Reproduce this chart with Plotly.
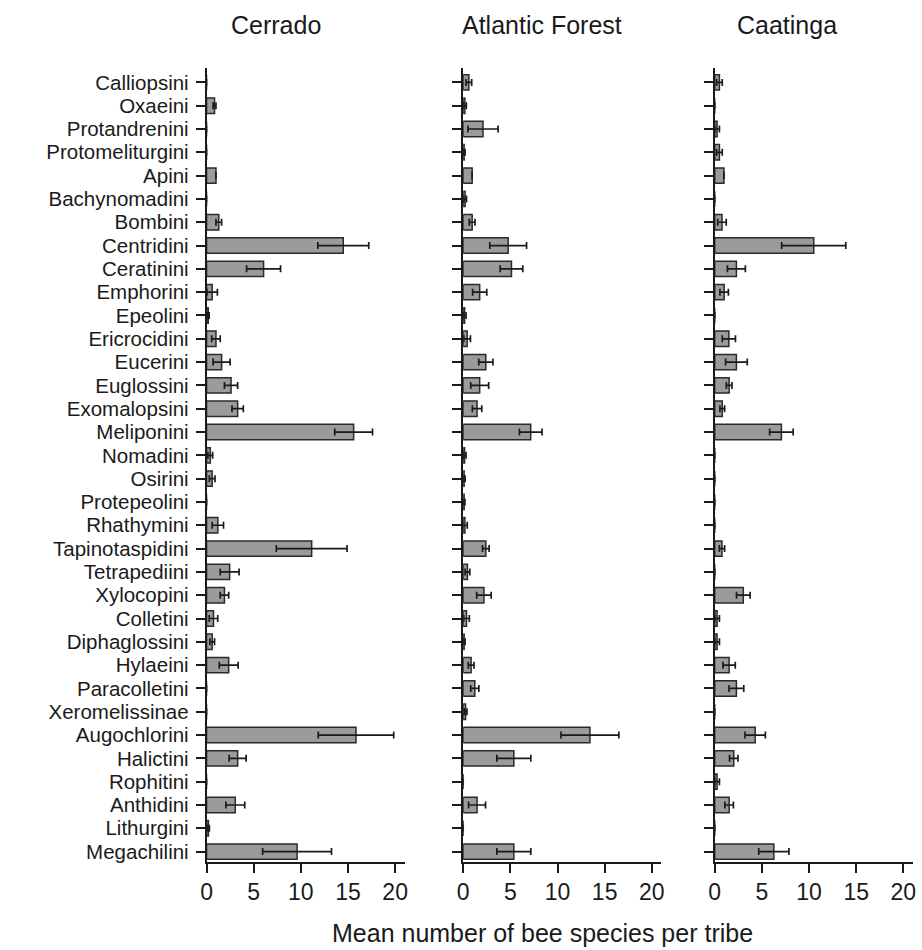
import plotly.graph_objects as go

tribes = ["Calliopsini", "Oxaeini", "Protandrenini", "Protomeliturgini", "Apini",
          "Bachynomadini", "Bombini", "Centridini", "Ceratinini", "Emphorini",
          "Epeolini", "Ericrocidini", "Eucerini", "Euglossini", "Exomalopsini",
          "Meliponini", "Nomadini", "Osirini", "Protepeolini", "Rhathymini",
          "Tapinotaspidini", "Tetrapediini", "Xylocopini", "Colletini",
          "Diphaglossini", "Hylaeini", "Paracolletini", "Xeromelissinae",
          "Augochlorini", "Halictini", "Rophitini", "Anthidini", "Lithurgini",
          "Megachilini"]

cerrado_mean = [0, 0.85, 0, 0, 1.0, 0, 1.3, 14.5, 6.05, 0.6,
                0.18, 1.0, 1.6, 2.6, 3.3, 15.6, 0.4, 0.6, 0, 1.2,
                11.15, 2.45, 1.9, 0.74, 0.6, 2.35, 0, 0, 15.85, 3.3,
                0, 3.05, 0.2, 9.6]
cerrado_se = [0, 0.15, 0, 0, 0, 0, 0.3, 2.7, 1.8, 0.55,
              0.1, 0.45, 0.9, 0.7, 0.6, 2.0, 0.25, 0.3, 0, 0.6,
              3.75, 1.0, 0.45, 0.45, 0.25, 1.0, 0, 0, 4.0, 0.9,
              0, 1.0, 0.1, 3.65]

atlantic_mean = [0.6, 0.18, 2.1, 0.1, 0.95, 0.2, 0.95, 4.77, 5.12, 1.75,
                 0.15, 0.42, 2.4, 1.75, 1.47, 7.16, 0.15, 0.1, 0.1, 0.18,
                 2.4, 0.45, 2.2, 0.35, 0.1, 0.84, 1.23, 0.25, 13.44, 5.37,
                 0, 1.47, 0, 5.37]
atlantic_se = [0.3, 0.15, 1.6, 0.1, 0, 0.15, 0.3, 1.95, 1.2, 0.75,
               0.15, 0.35, 0.75, 0.95, 0.5, 1.2, 0.15, 0.1, 0.08, 0.25,
               0.35, 0.25, 0.77, 0.3, 0.1, 0.3, 0.43, 0.15, 3.07, 1.8,
               0, 0.9, 0, 1.8]

caatinga_mean = [0.5, 0, 0.25, 0.5, 0.98, 0, 0.77, 10.5, 2.3, 1.0,
                 0, 1.5, 2.3, 1.53, 0.8, 7.07, 0, 0, 0, 0,
                 0.77, 0, 3.03, 0.25, 0.25, 1.53, 2.3, 0, 4.29, 2.02,
                 0.25, 1.53, 0, 6.27]
caatinga_se = [0.3, 0, 0.25, 0.3, 0, 0, 0.45, 3.4, 0.95, 0.45,
               0, 0.7, 1.15, 0.3, 0.25, 1.25, 0, 0, 0, 0,
               0.28, 0, 0.72, 0.25, 0.25, 0.65, 0.78, 0, 1.08, 0.45,
               0.25, 0.45, 0, 1.6]

panels = ["Cerrado", "Atlantic Forest", "Caatinga"]
x_ticks = [0, 5, 10, 15, 20]

W, H = 922, 950
FONT = "Liberation Sans, Arial, sans-serif"

means = [cerrado_mean, atlantic_mean, caatinga_mean]
ses = [cerrado_se, atlantic_se, caatinga_se]

# pixel domains of each panel
x_doms_px = [(202.5, 402.5), (461.7, 661.7), (715.7, 915.7)]
y_dom = [(950 - 863) / H, (950 - 68) / H]

fig = go.Figure()
for i in range(3):
    suffix = "" if i == 0 else str(i + 1)
    fig.add_trace(go.Bar(
        x=means[i], y=tribes, orientation="h",
        marker=dict(color="#9b9b9b", line=dict(color="#2a2a2a", width=1.5)),
        error_x=dict(type="data", array=ses[i], symmetric=True,
                     color="#1a1a1a", thickness=1.7, width=3.5),
        xaxis="x" + suffix, yaxis="y" + suffix, showlegend=False,
    ))

layout = dict(
    width=W, height=H,
    margin=dict(l=0, r=0, t=0, b=0),
    paper_bgcolor="white", plot_bgcolor="white",
    bargap=0.34,
    font=dict(family=FONT, color="#1a1a1a"),
)

for i in range(3):
    suffix = "" if i == 0 else str(i + 1)
    x0, x1 = x_doms_px[i]
    layout["xaxis" + suffix] = dict(
        domain=[x0 / W, x1 / W], range=[0, 21], anchor="y" + suffix,
        tickmode="array", tickvals=x_ticks, ticktext=[str(v) for v in x_ticks],
        ticks="outside", ticklen=9, tickwidth=1.5,
        tickcolor="#1a1a1a", showline=True, linecolor="#1a1a1a", linewidth=1.5,
        showgrid=False, zeroline=False,
        tickfont=dict(size=23, family=FONT, color="#1a1a1a"),
    )
    layout["yaxis" + suffix] = dict(
        domain=y_dom, anchor="x" + suffix,
        type="category", categoryorder="array", categoryarray=tribes,
        tickmode="array", tickvals=tribes, ticktext=tribes,
        range=[33.45, -0.62],
        ticks="outside", ticklen=9, tickwidth=1.5, tickcolor="#1a1a1a",
        showline=True, linecolor="#1a1a1a", linewidth=1.5,
        showgrid=False, zeroline=False,
        showticklabels=(i == 0), ticklabelstandoff=3,
        tickfont=dict(size=20.5, family=FONT, color="#1a1a1a"),
    )

fig.update_layout(**layout)

title_x_px = [273, 541, 789]
for i, name in enumerate(panels):
    fig.add_annotation(
        text=name, x=title_x_px[i] / W, y=1 - 25 / H, xref="paper", yref="paper",
        xanchor="center", yanchor="middle", showarrow=False,
        font=dict(size=25, family=FONT, color="#1a1a1a"),
    )

fig.add_annotation(
    text="Mean number of bee species per tribe", x=542 / W, y=1 - 934 / H,
    xref="paper", yref="paper", xanchor="center", yanchor="middle",
    showarrow=False, font=dict(size=25, family=FONT, color="#1a1a1a"),
)

fig.write_html("out.html")
